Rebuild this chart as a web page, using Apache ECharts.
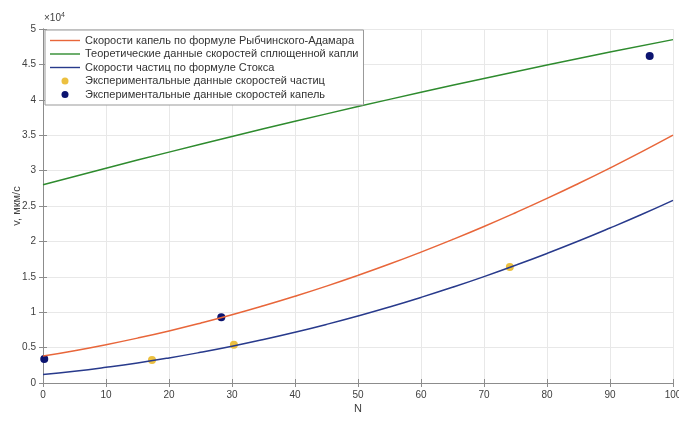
<!DOCTYPE html>
<html><head><meta charset="utf-8">
<script src="https://cdn.jsdelivr.net/npm/echarts@6/dist/echarts.min.js"></script>
<style>html,body{margin:0;padding:0;background:#fff}#c{width:679px;height:424px}</style>
</head><body><div id="c"></div>
<script>
const nGrid = [0,5,10,15,20,25,30,35,40,45,50,55,60,65,70,75,80,85,90,95,100];
const rybValues = [0.38,0.456,0.541,0.634,0.735,0.845,0.963,1.09,1.225,1.368,1.52,1.68,1.849,2.026,2.211,2.405,2.607,2.818,3.037,3.264,3.5];
const stokesValues = [0.12,0.166,0.221,0.283,0.354,0.433,0.519,0.614,0.717,0.828,0.947,1.074,1.209,1.352,1.503,1.663,1.83,2.005,2.189,2.38,2.58];
const nFlat = [0,10,20,30,40,50,60,70,80,90,100];
const flatValues = [2.8,3.034,3.261,3.482,3.696,3.904,4.106,4.302,4.491,4.674,4.85];
const partN = [17.3,30.3,74.1];
const partV = [0.325,0.54,1.64];
const dropN = [0.2,28.3,96.3];
const dropV = [0.34,0.93,4.62];
const names = ['Скорости капель по формуле Рыбчинского-Адамара','Теоретические данные скоростей сплющенной капли','Скорости частиц по формуле Стокса','Экспериментальные данные скоростей частиц','Экспериментальные данные скоростей капель'];
const zip = (a,b)=>a.map((v,i)=>[v,b[i]]);
const F = 'Liberation Sans, Arial, sans-serif';
const axisCol = '#8c8c8c';
const lineIcon = 'path://M0,0 L30,0 L30,1.4 L0,1.4 Z';
const chart = echarts.init(document.getElementById('c'));
const baseX = {type:'value',min:0,max:100,interval:10,axisLine:{lineStyle:{color:axisCol}},axisTick:{inside:true,length:4,lineStyle:{color:axisCol}}};
const baseY = {type:'value',min:0,max:5,interval:0.5,axisLine:{show:true,lineStyle:{color:axisCol}},axisTick:{show:true,inside:true,length:4,lineStyle:{color:axisCol}}};
chart.setOption({
  animation:false,
  textStyle:{fontFamily:F},
  grid:{left:43,right:6,top:29,bottom:41,outerBoundsMode:'none',containLabel:false},
  xAxis:[
    Object.assign({},baseX,{position:'bottom',name:'N',nameLocation:'middle',nameGap:20,nameMoveOverlap:false,nameTextStyle:{color:'#404040',fontSize:11,fontFamily:F},
      axisLabel:{color:'#404040',fontSize:10,fontFamily:F,margin:7},splitLine:{show:true,lineStyle:{color:'#e8e8e8'}}}),
    Object.assign({},baseX,{position:'top',axisLabel:{show:false},splitLine:{show:false}})
  ],
  yAxis:[
    Object.assign({},baseY,{position:'left',name:'v, мкм/с',nameLocation:'middle',nameGap:26,nameMoveOverlap:false,nameTextStyle:{color:'#404040',fontSize:11,fontFamily:F,verticalAlign:'middle'},
      axisLabel:{color:'#404040',fontSize:10,fontFamily:F,margin:7},splitLine:{show:true,lineStyle:{color:'#e8e8e8'}}}),
    Object.assign({},baseY,{position:'right',axisLabel:{show:false},splitLine:{show:false}})
  ],
  graphic:[{type:'text',left:44,top:12,style:{text:'×10{s|4}',rich:{s:{fontSize:7,verticalAlign:'top',padding:[0,0,6,0]}},fontSize:10,fill:'#404040',fontFamily:F}}],
  legend:{orient:'vertical',left:45,top:30,itemWidth:30,itemHeight:7,itemGap:2.5,padding:[5,5,5,5],
    backgroundColor:'#fff',borderColor:'#999',borderWidth:1,borderRadius:0,
    textStyle:{fontSize:11,color:'#333',fontFamily:F},
    data:[{name:names[0],icon:lineIcon},{name:names[1],icon:lineIcon},{name:names[2],icon:lineIcon},{name:names[3],icon:'circle'},{name:names[4],icon:'circle'}]},
  series:[
    {name:names[0],type:'line',smooth:true,symbol:'none',data:zip(nGrid,rybValues),lineStyle:{color:'#e8663a',width:1.5},itemStyle:{color:'#e8663a'}},
    {name:names[1],type:'line',smooth:true,symbol:'none',data:zip(nFlat,flatValues),lineStyle:{color:'#2e8b2e',width:1.5},itemStyle:{color:'#2e8b2e'}},
    {name:names[2],type:'line',smooth:true,symbol:'none',data:zip(nGrid,stokesValues),lineStyle:{color:'#283a8c',width:1.5},itemStyle:{color:'#283a8c'}},
    {name:names[3],type:'scatter',symbolSize:8,data:zip(partN,partV),itemStyle:{color:'#ecc040',opacity:1}},
    {name:names[4],type:'scatter',symbolSize:8,data:zip(dropN,dropV),itemStyle:{color:'#0c1470',opacity:1}}
  ]
});
</script></body></html>
